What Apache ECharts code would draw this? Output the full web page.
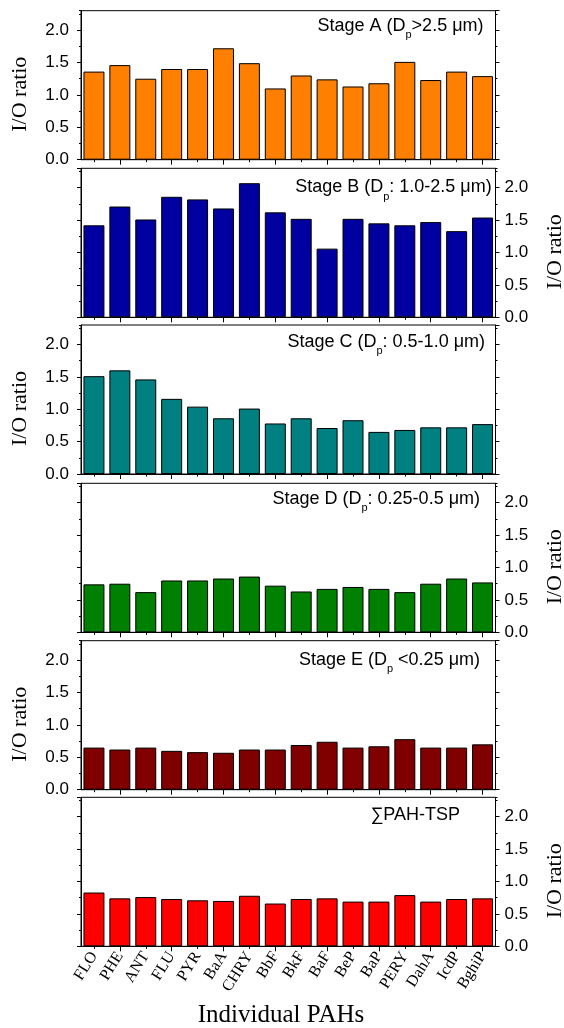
<!DOCTYPE html>
<html>
<head>
<meta charset="utf-8">
<script src="https://cdn.jsdelivr.net/npm/echarts@6/dist/echarts.min.js"></script>
<style>
  html, body { margin: 0; padding: 0; background: #fff; }
  #chart { width: 564px; height: 1028px; }
</style>
</head>
<body>
<div id="chart"></div>
<script>
// data
var pahs = ['FLO', 'PHE', 'ANT', 'FLU', 'PYR', 'BaA', 'CHRY', 'BbF', 'BkF', 'BaF', 'BeP', 'BaP', 'PERY', 'DahA', 'IcdP', 'BghiP'];
var stageA = [1.36, 1.46, 1.25, 1.40, 1.40, 1.72, 1.49, 1.10, 1.30, 1.24, 1.13, 1.18, 1.51, 1.23, 1.36, 1.29];
var stageB = [1.42, 1.71, 1.51, 1.86, 1.82, 1.68, 2.07, 1.62, 1.52, 1.06, 1.52, 1.45, 1.42, 1.47, 1.33, 1.54];
var stageC = [1.51, 1.60, 1.46, 1.16, 1.04, 0.86, 1.01, 0.78, 0.86, 0.71, 0.83, 0.65, 0.68, 0.72, 0.72, 0.77];
var stageD = [0.74, 0.75, 0.62, 0.80, 0.80, 0.83, 0.86, 0.72, 0.63, 0.67, 0.70, 0.67, 0.62, 0.75, 0.83, 0.77];
var stageE = [0.65, 0.62, 0.65, 0.60, 0.58, 0.57, 0.62, 0.62, 0.69, 0.74, 0.65, 0.67, 0.78, 0.65, 0.65, 0.70];
var pahTSP = [0.83, 0.74, 0.76, 0.73, 0.71, 0.70, 0.78, 0.66, 0.73, 0.74, 0.69, 0.69, 0.79, 0.69, 0.73, 0.74];
var yTickLabels = ['0.0', '0.5', '1.0', '1.5', '2.0'];

var panelData = [stageA, stageB, stageC, stageD, stageE, pahTSP];
var panelTitles = [
  '{n|Stage A (D}{s|p}{n|>2.5 \u03bcm)}',
  '{n|Stage B (D}{s|p}{n|: 1.0-2.5 \u03bcm)}',
  '{n|Stage C (D}{s|p}{n|: 0.5-1.0 \u03bcm)}',
  '{n|Stage D (D}{s|p}{n|: 0.25-0.5 \u03bcm)}',
  '{n|Stage E (D}{s|p}{n| <0.25 \u03bcm)}',
  '{n|\u2211PAH-TSP}'
];
var panelColors = ['#ff8000', '#0000a0', '#008080', '#008000', '#800000', '#ff0000'];
var labelSide = ['left', 'right', 'left', 'right', 'left', 'right'];

var sans = 'Liberation Sans, Arial, sans-serif';
var serif = 'Liberation Serif, Times New Roman, serif';

var panelTop = [10.7, 168.3, 325, 483.3, 640.7, 797.3];
var panelH = 149;
var plotL = 81, plotR = 495.5;
var titleRight = [483.5, 491.7, 485, 480, 480, 460];
var titleDy = [15.6, 19.2, 17, 15.4, 19.3, 17.7];

var chart = echarts.init(document.getElementById('chart'));

var grids = [], xAxes = [], yAxes = [], series = [], graphics = [];

panelData.forEach(function (vals, i) {
  grids.push({
    left: plotL, top: panelTop[i], width: plotR - plotL, height: panelH,
    show: true, borderColor: '#000', borderWidth: 1, backgroundColor: 'transparent',
    outerBoundsMode: 'none'
  });

  var last = i === panelData.length - 1;
  // long ticks on every second category
  xAxes.push({
    type: 'category', gridIndex: i, position: 'bottom', data: pahs, boundaryGap: true,
    axisLine: { show: true, onZero: false, lineStyle: { color: '#000', width: 1 } },
    axisTick: { show: true, alignWithLabel: true, length: 5, lineStyle: { color: '#000' },
      interval: function (idx) { return idx % 2 === 1; } },
    axisLabel: last ? { show: true, interval: 0, rotate: 58, margin: 7, fontFamily: serif, fontSize: 16, color: '#000' } : { show: false },
    splitLine: { show: false }
  });
  // short ticks
  xAxes.push({
    type: 'category', gridIndex: i, position: 'bottom', data: pahs, boundaryGap: true,
    axisLine: { show: false, onZero: false },
    axisTick: { show: true, alignWithLabel: true, length: 2.5, lineStyle: { color: '#000' },
      interval: function (idx) { return idx % 2 === 0; } },
    axisLabel: { show: false },
    splitLine: { show: false }
  });

  ['left', 'right'].forEach(function (pos) {
    yAxes.push({
      type: 'value', gridIndex: i, position: pos, min: 0, max: 2.3, interval: 0.5,
      axisLine: { show: true, lineStyle: { color: '#000', width: 1 } },
      axisTick: { show: true, length: 4, lineStyle: { color: '#000' } },
      axisLabel: {
        show: labelSide[i] === pos, showMaxLabel: false,
        margin: pos === 'left' ? 12 : 9,
        fontFamily: sans, fontSize: 17, color: '#000',
        formatter: function (v) {
          var k = Math.round(v * 2);
          return Math.abs(v * 2 - k) < 1e-6 && yTickLabels[k] ? yTickLabels[k] : '';
        }
      },
      splitLine: { show: false }
    });
    yAxes.push({
      type: 'value', gridIndex: i, position: pos, min: 0, max: 2.3, interval: 0.25,
      axisLine: { show: false },
      axisTick: { show: true, length: 2, lineStyle: { color: '#000' } },
      axisLabel: { show: false },
      splitLine: { show: false }
    });
  });

  series.push({
    type: 'bar', xAxisIndex: 2 * i, yAxisIndex: 4 * i, data: vals,
    barCategoryGap: '19%',
    itemStyle: { color: panelColors[i], borderColor: '#000', borderWidth: 1 },
    silent: true, animation: false
  });

  graphics.push({
    type: 'text', x: titleRight[i], y: panelTop[i] + titleDy[i], silent: true,
    style: {
      text: panelTitles[i], align: 'right', verticalAlign: 'middle',
      rich: {
        n: { fontFamily: sans, fontSize: 18, fill: '#000' },
        s: { fontFamily: sans, fontSize: 11, fill: '#000', padding: [18, 0, 0, 0] }
      }
    }
  });

  graphics.push({
    type: 'text', x: labelSide[i] === 'left' ? 20 : 555, y: panelTop[i] + panelH / 2 + 9,
    rotation: Math.PI / 2, silent: true,
    style: { text: 'I/O ratio', font: '22px ' + serif, fill: '#000', align: 'center', verticalAlign: 'middle' }
  });
});

graphics.push({
  type: 'text', x: 281, y: 1015, silent: true,
  style: { text: 'Individual PAHs', font: '25px ' + serif, fill: '#000', align: 'center', verticalAlign: 'middle' }
});

var option = {
  animation: false,
  backgroundColor: '#fff',
  grid: grids,
  xAxis: xAxes,
  yAxis: yAxes,
  series: series,
  graphic: graphics
};

option && chart.setOption(option);
</script>
</body>
</html>
